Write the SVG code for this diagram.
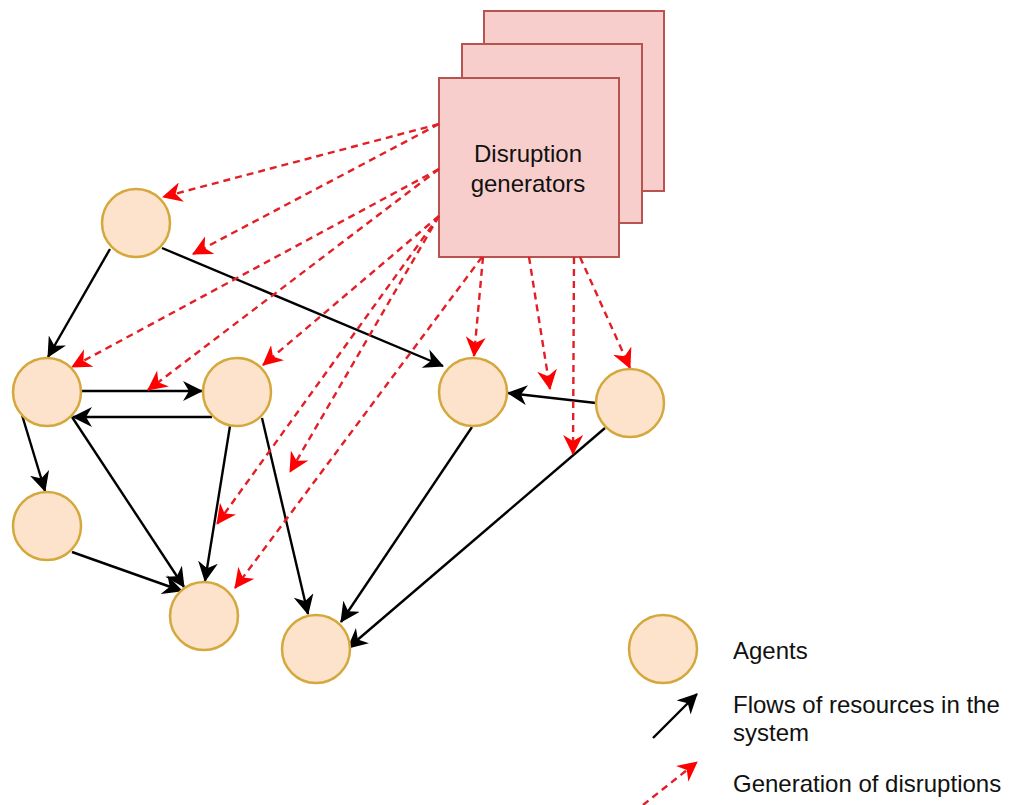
<svg xmlns="http://www.w3.org/2000/svg" width="1014" height="805" viewBox="0 0 1014 805">
<style>
.agent{fill:#fde3cc;stroke:#d4a83c;stroke-width:2.5}
.gen{fill:#f8cecc;stroke:#b85450;stroke-width:2}
.flow{stroke:#000;stroke-width:2.4;fill:none;marker-end:url(#ab)}
.dis{stroke:#e41e26;stroke-width:2.4;fill:none;stroke-dasharray:7 5;marker-end:url(#ar)}
text{font-family:"Liberation Sans",Arial,Helvetica,sans-serif;font-size:24px;fill:#111}
</style>
<defs>
<marker id="ab" viewBox="0 0 20 20" refX="19" refY="10" markerWidth="20" markerHeight="20" markerUnits="userSpaceOnUse" orient="auto">
<path d="M20,10 L0,0 L6,10 L0,20 Z" fill="#000" stroke="none"/>
</marker>
<marker id="ar" viewBox="0 0 20 20" refX="19" refY="10" markerWidth="20" markerHeight="20" markerUnits="userSpaceOnUse" orient="auto">
<path d="M20,10 L0,0 L6,10 L0,20 Z" fill="#ff0000" stroke="none"/>
</marker>
</defs>
<rect width="1014" height="805" fill="#fff"/>

<g id="generators">
<rect class="gen" x="484" y="11" width="180" height="180"/>
<rect class="gen" x="462" y="44" width="180" height="179"/>
<rect class="gen" x="439" y="78" width="180" height="179"/>
<text x="528" y="162" text-anchor="middle">Disruption</text>
<text x="528" y="192" text-anchor="middle">generators</text>
</g>

<g id="connectors">
<line class="flow" x1="110" y1="249" x2="48" y2="357"/>
<line class="flow" x1="162" y1="248" x2="443" y2="366"/>
<line class="flow" x1="82" y1="391" x2="202" y2="391"/>
<line class="flow" x1="212" y1="417" x2="73" y2="417"/>
<line class="flow" x1="22" y1="415" x2="45" y2="491"/>
<line class="flow" x1="72" y1="417" x2="184" y2="587"/>
<line class="flow" x1="230" y1="426" x2="205" y2="581"/>
<line class="flow" x1="262" y1="418" x2="308" y2="614"/>
<line class="flow" x1="72" y1="552" x2="182" y2="591"/>
<line class="flow" x1="472" y1="427" x2="341" y2="622"/>
<line class="flow" x1="605" y1="428" x2="348" y2="648"/>
<line class="flow" x1="596" y1="403" x2="508" y2="393"/>

<line class="dis" x1="439" y1="124" x2="163" y2="197"/>
<line class="dis" x1="439" y1="124" x2="193" y2="254"/>
<line class="dis" x1="439" y1="169" x2="72" y2="367"/>
<line class="dis" x1="439" y1="169" x2="148" y2="390"/>
<line class="dis" x1="439" y1="216" x2="263" y2="365"/>
<line class="dis" x1="439" y1="216" x2="290" y2="472"/>
<line class="dis" x1="439" y1="216" x2="217" y2="524"/>
<line class="dis" x1="482" y1="257" x2="235" y2="588"/>
<line class="dis" x1="483" y1="257" x2="474" y2="356"/>
<line class="dis" x1="529" y1="257" x2="550" y2="389"/>
<line class="dis" x1="574" y1="257" x2="573" y2="454"/>
<line class="dis" x1="580" y1="257" x2="630" y2="368"/>
</g>

<g id="agentA"><circle class="agent" cx="136" cy="223" r="34"/></g>
<g id="agentB"><circle class="agent" cx="47" cy="392" r="34"/></g>
<g id="agentC"><circle class="agent" cx="237" cy="392" r="34"/></g>
<g id="agentD"><circle class="agent" cx="47" cy="526" r="34"/></g>
<g id="agentE"><circle class="agent" cx="204" cy="616" r="34"/></g>
<g id="agentF"><circle class="agent" cx="316" cy="649" r="34"/></g>
<g id="agentG"><circle class="agent" cx="473" cy="392" r="34"/></g>
<g id="agentH"><circle class="agent" cx="630" cy="403" r="34"/></g>

<g id="legend">
<circle class="agent" cx="663" cy="649" r="34"/>
<text x="733" y="659">Agents</text>
<line class="flow" x1="653" y1="738" x2="697" y2="694"/>
<text x="733" y="713">Flows of resources in the</text>
<text x="733" y="741">system</text>
<line class="dis" x1="643" y1="805" x2="697" y2="762"/>
<text x="733" y="792">Generation of disruptions</text>
</g>
</svg>
